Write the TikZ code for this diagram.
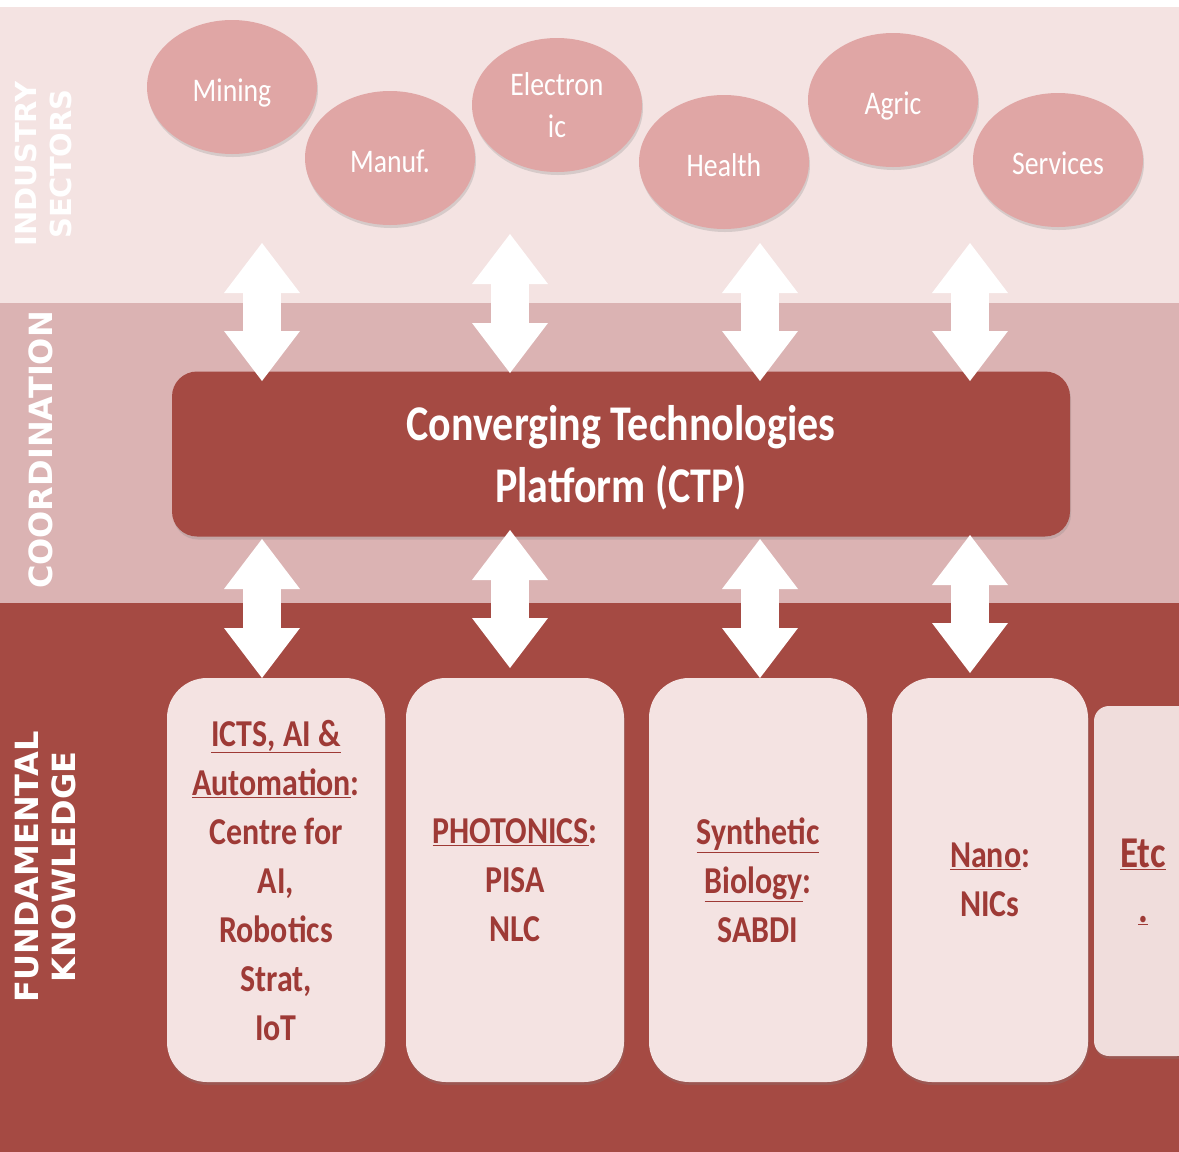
\documentclass[tikz,border=0pt]{standalone}
\usepackage{fontspec}
\setmainfont{Carlito}[FakeStretch=0.84]
\newfontfamily\bandfont{DejaVu Sans}
\usepackage{tikz}
\usetikzlibrary{shapes.geometric,shadows,arrows.meta}

\definecolor{industrybg}{HTML}{F4E3E2}
\definecolor{coordbg}{HTML}{DBB3B3}
\definecolor{fundbg}{HTML}{A54A43}
\definecolor{sectorfill}{HTML}{E0A6A5}
\definecolor{boxtext}{HTML}{9E3A36}
\definecolor{etcfill}{HTML}{F0DDDC}

\begin{document}
\begin{tikzpicture}[x=1pt,y=-1pt,
    softshadow/.style={drop shadow={shadow xshift=1pt,shadow yshift=-3pt,opacity=0.25}},
    sector/.style={ellipse, fill=sectorfill, text=white, minimum width=170pt, minimum height=134pt,
        inner sep=0pt, align=center, text height=29pt, text depth=0pt,
        font=\fontsize{33}{42}\selectfont, softshadow},
    ctpbox/.style={rectangle, rounded corners=25pt, fill=fundbg, text=white, minimum width=898pt,
        minimum height=165pt, align=center, text depth=-6pt,
        font=\bfseries\fontsize{50}{62}\selectfont, softshadow},
    fieldbox/.style={rectangle, rounded corners=40pt, fill=industrybg, text=boxtext, minimum width=218pt,
        minimum height=404pt, inner sep=0pt, align=center, text depth=-8pt,
        font=\bfseries\fontsize{38}{49}\selectfont, softshadow},
    bandlabel/.style={text=white, align=center, rotate=90, font=\bandfont\bfseries\fontsize{29}{35}\selectfont},
    blockarrow/.style={draw=white, line width=38pt,
        {Triangle[length=50pt,width=76pt,line width=0pt]}-{Triangle[length=50pt,width=76pt,line width=0pt]}}]

    \useasboundingbox (0,0) rectangle (1179,1152);
    \clip (0,0) rectangle (1179,1152);

    % three bands
    \fill[white] (0,0) rectangle (1179,1152);
    \fill[industrybg] (0,7) rectangle (1179,303);
    \fill[coordbg] (0,303) rectangle (1179,603);
    \fill[fundbg] (0,603) rectangle (1179,1152);

    \node[bandlabel] (industry) at (43,164) {INDUSTRY\\SECTORS};
    \node[bandlabel, font=\bandfont\bfseries\fontsize{32}{37}\selectfont] (coordination) at (41,450) {COORDINATION};
    \node[bandlabel, font=\bandfont\bfseries\fontsize{32}{37}\selectfont] (fundamental) at (46,867) {FUNDAMENTAL\\KNOWLEDGE};

    % sectors
    \node[sector] (mining) at (232,87) {Mining};
    \node[sector] (manuf) at (390,158) {Manuf.};
    \node[sector, text height={}, text depth={}] (electronic) at (557,105) {Electron\\ic};
    \node[sector] (health) at (724,162) {Health};
    \node[sector] (agric) at (893,100) {Agric};
    \node[sector] (services) at (1058,160) {Services};

    % platform
    \node[ctpbox] (ctp) at (621,454) {Converging Technologies\\Platform (CTP)};

    % knowledge fields
    \node[fieldbox] (icts) at (276,880) {\underline{ICTS, AI \&}\\\underline{Automation}:\\Centre for\\AI,\\Robotics\\Strat,\\IoT};
    \node[fieldbox] (photonics) at (515,880) {\underline{PHOTONICS}:\\PISA\\NLC};
    \node[fieldbox] (synbio) at (758,880) {\underline{Synthetic}\\\underline{Biology}:\\SABDI};
    \node[fieldbox, minimum width=196pt] (nano) at (990,880) {\underline{Nano}:\\NICs};
    \node[fieldbox, fill=etcfill, rounded corners=15pt, minimum width=98pt, minimum height=350pt,
        text depth=-4pt, font=\bfseries\fontsize{44}{55}\selectfont] (etc) at (1143,881) {\underline{Etc}\\\underline{.}};

    % arrows sectors <-> platform
    \coordinate (su1) at (262,243);
    \coordinate (sd1) at (262,381);
    \coordinate (su2) at (510,234);
    \coordinate (sd2) at (510,373);
    \coordinate (su3) at (760,243);
    \coordinate (sd3) at (760,381);
    \coordinate (su4) at (970,243);
    \coordinate (sd4) at (970,381);

    \draw[blockarrow] (su1) -- (sd1);
    \draw[blockarrow] (su2) -- (sd2);
    \draw[blockarrow] (su3) -- (sd3);
    \draw[blockarrow] (su4) -- (sd4);

    % arrows platform <-> fields
    \coordinate (fu1) at (262,539);
    \coordinate (fd1) at (262,678);
    \coordinate (fu2) at (510,530);
    \coordinate (fd2) at (510,668);
    \coordinate (fu3) at (760,539);
    \coordinate (fd3) at (760,678);
    \coordinate (fu4) at (970,535);
    \coordinate (fd4) at (970,673);

    \draw[blockarrow] (fu1) -- (fd1);
    \draw[blockarrow] (fu2) -- (fd2);
    \draw[blockarrow] (fu3) -- (fd3);
    \draw[blockarrow] (fu4) -- (fd4);
\end{tikzpicture}
\end{document}
